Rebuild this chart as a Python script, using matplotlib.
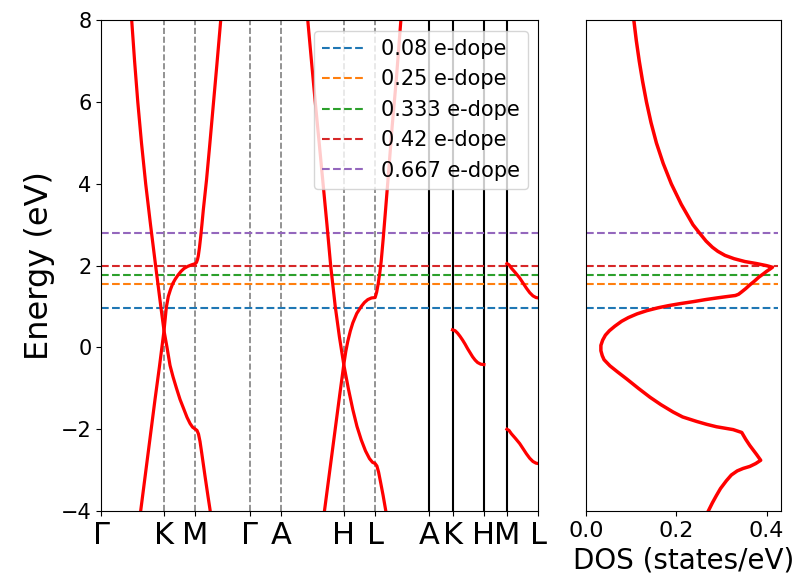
import matplotlib
matplotlib.use("Agg")
import matplotlib.pyplot as plt

# k-path: tick positions (Gamma-K = 1) and labels
kticks = [0.0, 1.0, 1.5, 2.366, 2.866, 3.866, 4.366, 5.232, 5.6, 6.1, 6.467, 6.967]
klabels = ["Γ", "K", "M", "Γ", "A", "H", "L", "A", "K", "H", "M", "L"]

# Fermi levels for each doping (eV)
dope_labels = ["0.08 e-dope", "0.25 e-dope", "0.333 e-dope", "0.42 e-dope", "0.667 e-dope"]
dope_levels = [0.97, 1.55, 1.78, 1.99, 2.79]

# bands along Gamma-K-M-Gamma
band1_k = [0.485, 0.531, 0.582, 0.641, 0.708, 0.785, 0.866, 0.949, 1.0, 1.048, 1.096,
           1.144, 1.199, 1.255, 1.311, 1.367, 1.415, 1.455, 1.5, 1.526, 1.550, 1.574,
           1.601, 1.654, 1.702, 1.734, 1.740]
band1_e = [8.0, 7.0, 6.0, 5.0, 4.0, 3.0, 2.0, 1.0, 0.41, 0.0, -0.44,
           -0.72, -1.0, -1.27, -1.49, -1.71, -1.86, -1.95, -2.0, -2.03, -2.12, -2.30,
           -2.58, -3.15, -3.65, -3.97, -4.05]
band2_k = [0.628, 0.856, 0.928, 1.0, 1.019, 1.037, 1.069, 1.104, 1.139, 1.179, 1.219,
           1.271, 1.319, 1.375, 1.439, 1.5, 1.518, 1.534, 1.547, 1.566, 1.585, 1.606,
           1.627, 1.678, 1.726, 1.781, 1.842, 1.904]
band2_e = [-4.0, -1.28, -0.46, 0.41, 0.70, 0.98, 1.25, 1.42, 1.56, 1.67, 1.76,
           1.86, 1.93, 1.98, 2.02, 2.05, 2.08, 2.15, 2.24, 2.45, 2.71, 3.03,
           3.37, 4.1, 4.9, 5.85, 6.9, 8.0]

# bands along A-H-L-A
band3_k = [3.292, 3.351, 3.411, 3.474, 3.536, 3.598, 3.657, 3.730, 3.797, 3.866, 3.938,
           4.010, 4.076, 4.144, 4.212, 4.276, 4.324, 4.366, 4.394, 4.421, 4.453, 4.493,
           4.536]
band3_e = [8.0, 7.0, 6.0, 5.0, 4.0, 3.0, 2.0, 1.0, 0.25, -0.42, -1.0,
           -1.52, -1.93, -2.26, -2.53, -2.72, -2.81, -2.84, -2.90, -3.05, -3.30, -3.62,
           -4.0]
band4_k = [3.558, 3.695, 3.802, 3.866, 3.898, 3.930, 3.970, 4.010, 4.073, 4.144, 4.196,
           4.249, 4.308, 4.366, 4.390, 4.414, 4.438, 4.462, 4.494, 4.534, 4.581, 4.637,
           4.706, 4.776]
band4_e = [-4.0, -2.4, -1.15, -0.42, -0.10, 0.15, 0.40, 0.60, 0.83, 1.0, 1.10,
           1.17, 1.21, 1.22, 1.35, 1.55, 1.80, 2.10, 2.65, 3.4, 4.3, 5.4,
           6.6, 8.0]

# K-H segment
kh_k = [5.6, 5.64, 5.68, 5.72, 5.76, 5.80, 5.84, 5.88, 5.92, 5.96, 6.0, 6.05, 6.1]
kh_e = [0.43, 0.41, 0.35, 0.27, 0.18, 0.08, -0.03, -0.13, -0.23, -0.31, -0.37, -0.41, -0.42]

# M-L segment, upper and lower branch
ml_k = [6.467, 6.50, 6.537, 6.60, 6.67, 6.73, 6.777, 6.83, 6.882, 6.93, 6.967]
ml_up = [2.05, 2.02, 1.94, 1.83, 1.70, 1.56, 1.45, 1.34, 1.26, 1.22, 1.21]
ml_low = [-2.0, -2.03, -2.11, -2.22, -2.35, -2.49, -2.60, -2.71, -2.79, -2.83, -2.84]

# density of states
dos_e = [8.0, 7.5, 7.0, 6.5, 6.0, 5.5, 5.0, 4.5, 4.0, 3.5, 3.0, 2.79, 2.6, 2.45,
         2.35, 2.25, 2.17, 2.10, 2.05, 2.00, 1.96, 1.92, 1.86, 1.80, 1.72, 1.62, 1.53,
         1.44, 1.36, 1.30, 1.27, 1.24, 1.21, 1.17, 1.12, 1.07, 1.02, 0.97, 0.90, 0.82,
         0.73, 0.64, 0.52, 0.41, 0.30, 0.18, 0.05, -0.08, -0.20, -0.30, -0.45, -0.60,
         -0.77, -1.0, -1.22, -1.40, -1.58, -1.70, -1.81, -1.88, -1.94, -2.01, -2.08,
         -2.25, -2.40, -2.62, -2.76, -2.84, -2.91, -2.96, -3.02, -3.12, -3.26, -3.45,
         -3.62, -3.80, -4.0]
dos = [0.106, 0.1115, 0.118, 0.1255, 0.134, 0.144, 0.156, 0.171, 0.189, 0.211, 0.237, 0.252, 0.266, 0.280,
       0.292, 0.308, 0.328, 0.352, 0.378, 0.400, 0.413, 0.408, 0.400, 0.393, 0.383, 0.373, 0.363,
       0.354, 0.345, 0.338, 0.331, 0.310, 0.290, 0.265, 0.238, 0.208, 0.182, 0.160, 0.135, 0.113,
       0.094, 0.079, 0.064, 0.052, 0.043, 0.037, 0.033, 0.033, 0.036, 0.040, 0.053, 0.070,
       0.090, 0.116, 0.142, 0.166, 0.193, 0.214, 0.245, 0.267, 0.289, 0.326, 0.345,
       0.354, 0.363, 0.378, 0.387, 0.376, 0.363, 0.348, 0.335, 0.322, 0.311, 0.298,
       0.289, 0.280, 0.271]

colors = ["C0", "C1", "C2", "C3", "C4"]

fig = plt.figure(figsize=(7.95, 5.8), dpi=100)
ax = fig.add_axes([0.1274, 0.119, 0.5497, 0.846])
ax2 = fig.add_axes([0.7371, 0.119, 0.2453, 0.846])

# high-symmetry lines
for k in kticks[1:7]:
    ax.axvline(k, color="gray", linestyle="--", linewidth=1.2)
for k in kticks[7:11]:
    ax.axvline(k, color="black", linewidth=1.5)

for lvl, lab, c in zip(dope_levels, dope_labels, colors):
    ax.hlines(lvl, kticks[0], kticks[-1], colors=c, linestyles="--", label=lab)
    ax2.hlines(lvl, 0, 0.425, colors=c, linestyles="--")

for kk, ee in [(band1_k, band1_e), (band2_k, band2_e), (band3_k, band3_e),
               (band4_k, band4_e), (kh_k, kh_e), (ml_k, ml_up), (ml_k, ml_low)]:
    ax.plot(kk, ee, color="red", linewidth=2.3)

ax.set_xlim(kticks[0], kticks[-1])
ax.set_ylim(-4, 8)
ax.set_xticks(kticks)
ax.set_xticklabels(klabels, fontsize=22)
ax.set_yticks([-4, -2, 0, 2, 4, 6, 8])
ax.tick_params(axis="y", labelsize=15)
ax.set_ylabel("Energy (eV)", fontsize=23)
ax.legend(loc="upper right", fontsize=15)

ax2.plot(dos, dos_e, color="red", linewidth=2.5)
ax2.set_xlim(0, 0.432)
ax2.set_ylim(-4, 8)
ax2.set_yticks([])
ax2.set_xticks([0.0, 0.2, 0.4])
ax2.tick_params(axis="x", labelsize=16)
ax2.set_xlabel("DOS (states/eV)", fontsize=20)

fig.savefig("out.png", dpi=100)
